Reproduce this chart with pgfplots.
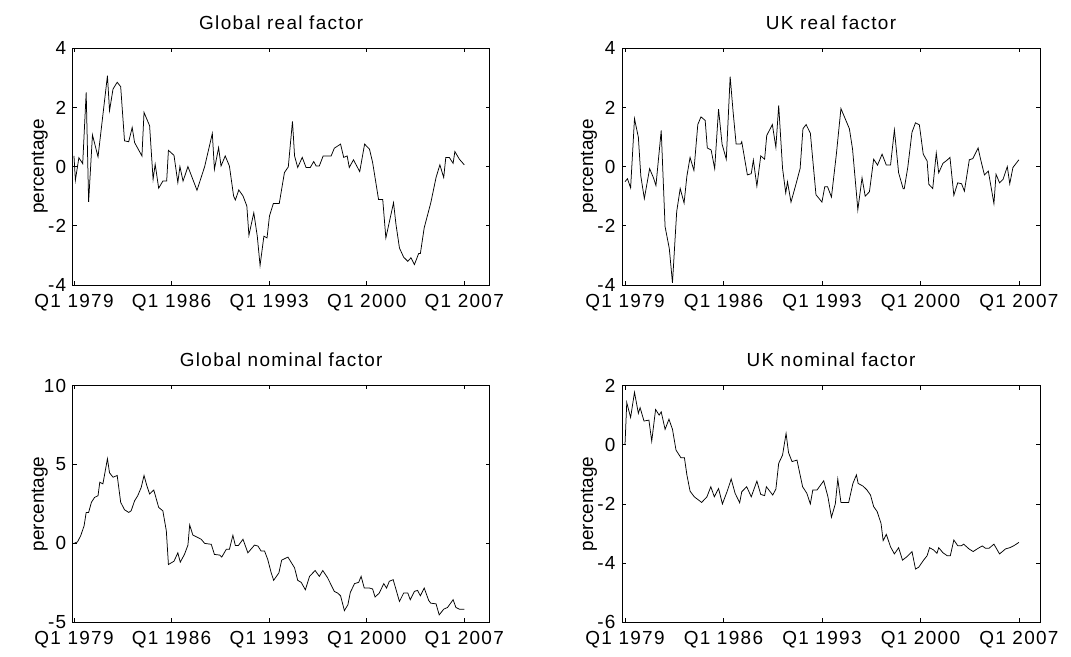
\documentclass[border=0pt]{standalone}
\usepackage{fontspec}
\setmainfont{Liberation Sans}
\newfontfamily\spaced{Liberation Sans}[LetterSpace=7]
\usepackage{pgfplots}
\pgfplotsset{compat=1.18}
\pgfplotsset{
  mystyle/.style={
    scale only axis, height=236.8bp,
    axis line style={line width=0.7bp, black},
    tick style={line width=0.7bp, black},
    major tick length=4bp,
    xtick={0,28,56,84,112},
    xticklabels={Q1 1979,Q1 1986,Q1 1993,Q1 2000,Q1 2007},
    every tick label/.append style={font=\spaced\fontsize{19}{19}\selectfont, inner sep=0pt},
    /pgf/number format/assume math mode=true,
    xticklabel style={anchor=base, yshift=-22.5bp},
    yticklabel style={anchor=east, xshift=-6.3bp},
    every axis title/.style={font=\spaced\fontsize{19}{19}\selectfont, at={(0.5,1)}, anchor=base, yshift=19bp},
    ylabel style={font=\fontsize{19}{19}\selectfont, at={([xshift=-33bp]axis description cs:0,0.5)}, anchor=center},
    ylabel={percentage},
  },
  leftcol/.style={mystyle, width=417bp, xmin=-0.37, xmax=119.3},
  rightcol/.style={mystyle, width=418bp, xmin=-0.85, xmax=118},
  ln/.style={black, line width=0.75bp, mark=none},
}
\begin{document}
\begin{tikzpicture}
\useasboundingbox (0,0) rectangle (1071bp,657bp);

% Global real factor
\begin{axis}[leftcol, at={(72.7bp,372bp)}, anchor=south west,
  title={Global real factor}, ymin=-4, ymax=4, ytick={-4,-2,0,2,4}]
\addplot[ln] coordinates {
(0.0,0.36) (0.4,-0.46) (1.4,0.30) (2.5,0.10) (3.5,2.51) (4.2,-1.19) (5.3,1.07) (6.9,0.33)
(9.6,3.07) (10.2,1.89) (11.2,2.62) (12.4,2.85) (13.4,2.70) (14.5,0.87) (15.7,0.84) (16.7,1.32)
(17.4,0.81) (19.5,0.36) (20.1,1.83) (21.7,1.38) (22.7,-0.43) (23.3,0.08) (24.3,-0.73) (25.5,-0.49)
(26.6,-0.49) (27.1,0.55) (28.7,0.38) (29.8,-0.54) (30.4,0.00) (31.3,-0.49) (32.7,0.00) (35.3,-0.80)
(37.5,0.00) (39.7,1.12) (40.3,-0.09) (41.5,0.64) (42.2,0.02) (43.4,0.36) (44.6,0.02) (45.8,-0.99)
(46.3,-1.13) (47.3,-0.79) (48.5,-0.99) (49.6,-1.33) (50.2,-2.32) (51.6,-1.56) (52.6,-2.35) (53.4,-3.34)
(54.5,-2.35) (55.4,-2.41) (56.1,-1.67) (57.2,-1.25) (58.9,-1.25) (60.4,-0.20) (61.5,-0.01) (62.7,1.53)
(63.3,0.36) (64.2,-0.03) (65.5,0.31) (66.6,-0.03) (67.8,-0.03) (68.8,0.17) (69.5,0.02) (70.4,0.02)
(71.5,0.36) (73.8,0.36) (74.7,0.62) (76.5,0.76) (77.4,0.31) (78.4,0.36) (79.0,-0.03) (80.2,0.23)
(82.0,-0.17) (83.4,0.76) (84.8,0.59) (85.7,0.14) (87.4,-1.11) (88.6,-1.11) (89.5,-2.41) (91.7,-1.22)
(92.4,-1.95) (93.4,-2.75) (94.6,-3.06) (95.8,-3.20) (96.7,-3.08) (97.7,-3.31) (98.9,-2.94) (99.4,-2.94)
(100.5,-2.07) (102.4,-1.22) (103.9,-0.37) (105.0,0.06) (106.1,-0.37) (106.7,0.31) (107.7,0.31) (108.8,0.11)
(109.3,0.51) (110.6,0.25) (112.0,0.06)
};
\end{axis}

% UK real factor
\begin{axis}[rightcol, at={(622bp,372bp)}, anchor=south west,
  title={UK real factor}, ymin=-4, ymax=4, ytick={-4,-2,0,2,4}]
\addplot[ln] coordinates {
(0.0,-0.51) (0.7,-0.41) (1.6,-0.72) (2.7,1.62) (3.8,0.99) (4.5,-0.32) (5.5,-1.08) (7.0,-0.07)
(8.1,-0.38) (8.8,-0.64) (10.3,1.22) (11.4,-2.03) (12.6,-2.77) (13.5,-3.93) (14.7,-1.52) (15.7,-0.74)
(16.8,-1.23) (17.6,-0.32) (18.5,0.31) (19.6,-0.13) (20.7,1.42) (21.6,1.68) (22.8,1.56) (23.4,0.63)
(24.5,0.56) (25.5,-0.07) (26.6,1.94) (27.6,0.76) (28.8,0.25) (29.9,3.04) (30.7,1.90) (31.6,0.76)
(32.9,0.76) (33.2,0.84) (34.8,-0.28) (35.9,-0.24) (36.5,0.22) (37.5,-0.66) (38.6,0.36) (39.7,0.25)
(40.3,1.05) (41.9,1.42) (42.9,0.65) (43.7,2.07) (44.8,-0.06) (45.7,-0.89) (46.2,-0.51) (47.2,-1.20)
(48.6,-0.60) (49.8,-0.06) (50.6,1.28) (51.5,1.42) (52.7,1.13) (54.3,-0.95) (56.0,-1.20) (56.8,-0.68)
(57.6,-0.68) (58.7,-1.03) (60.1,0.42) (61.4,1.96) (62.6,1.62) (63.8,1.28) (64.7,0.59) (66.0,-1.17)
(66.2,-1.46) (67.4,-0.38) (68.3,-1.00) (69.5,-0.85) (70.7,0.25) (71.8,0.05) (73.1,0.42) (74.3,0.05)
(75.5,0.05) (76.6,1.24) (77.8,-0.21) (79.1,-0.75) (79.4,-0.75) (80.4,-0.03) (81.6,1.16) (82.6,1.48)
(83.7,1.41) (84.8,0.42) (85.9,0.19) (86.4,-0.60) (87.5,-0.74) (88.5,0.46) (89.2,-0.21) (90.4,0.11)
(91.6,0.22) (92.4,0.31) (93.5,-0.97) (94.6,-0.55) (95.7,-0.58) (96.5,-0.83) (97.9,0.23) (98.9,0.27)
(100.4,0.63) (101.1,0.25) (102.2,-0.28) (103.3,-0.15) (104.9,-1.25) (105.5,-0.26) (106.5,-0.55) (107.5,-0.43)
(108.7,0.00) (109.4,-0.58) (110.3,-0.03) (112.0,0.23)
};
\end{axis}

% Global nominal factor
\begin{axis}[leftcol, at={(72.7bp,34.7bp)}, anchor=south west,
  title={Global nominal factor}, ymin=-5, ymax=10, ytick={-5,0,5,10}]
\addplot[ln] coordinates {
(0.0,0.00) (1.0,0.09) (1.9,0.47) (2.9,1.11) (3.5,1.96) (4.2,1.96) (5.0,2.60) (5.9,2.91)
(6.9,3.02) (7.4,3.87) (8.3,3.77) (9.6,5.36) (10.2,4.47) (11.2,4.19) (12.4,4.30) (13.4,2.60)
(14.5,2.13) (15.7,1.96) (16.4,2.06) (17.4,2.70) (18.3,3.02) (19.3,3.55) (20.1,4.30) (20.9,3.66)
(21.7,3.13) (22.9,3.38) (24.3,2.28) (25.5,2.06) (26.5,0.79) (27.1,-1.34) (28.7,-1.13) (29.8,-0.60)
(30.5,-1.19) (31.7,-0.70) (32.7,-0.11) (33.2,1.17) (34.1,0.53) (35.6,0.36) (36.5,0.26) (37.5,0.00)
(39.4,-0.06) (40.3,-0.70) (41.8,-0.74) (42.4,-0.87) (43.7,-0.38) (44.6,-0.38) (45.6,0.51) (46.3,-0.13)
(47.2,-0.13) (48.5,0.26) (49.9,-0.60) (51.8,-0.11) (52.8,-0.17) (53.7,-0.49) (54.7,-0.49) (55.6,-1.02)
(56.6,-1.87) (57.3,-2.34) (58.8,-1.87) (59.6,-1.06) (61.4,-0.87) (63.3,-1.55) (64.2,-2.34) (65.2,-2.47)
(66.4,-2.94) (67.6,-2.09) (69.2,-1.72) (70.4,-2.09) (71.4,-1.72) (72.8,-2.19) (74.7,-3.04) (75.7,-3.15)
(76.5,-3.32) (77.6,-4.26) (78.6,-3.89) (79.3,-3.11) (80.5,-2.55) (81.7,-2.47) (82.4,-2.09) (83.3,-2.83)
(84.8,-2.83) (85.7,-2.89) (86.4,-3.40) (87.6,-3.15) (88.9,-2.55) (89.7,-2.83) (90.5,-2.40) (91.6,-2.30)
(93.4,-3.68) (94.6,-3.15) (95.8,-3.15) (96.5,-3.57) (97.7,-3.04) (98.6,-2.98) (99.4,-3.32) (100.5,-2.83)
(101.8,-3.62) (102.4,-3.79) (103.9,-3.83) (104.8,-4.53) (106.1,-4.17) (107.2,-4.06) (108.8,-3.57) (109.6,-4.06)
(110.6,-4.17) (112.0,-4.17)
};
\end{axis}

% UK nominal factor
\begin{axis}[rightcol, at={(622bp,34.7bp)}, anchor=south west,
  title={UK nominal factor}, ymin=-6, ymax=2, ytick={-6,-4,-2,0,2}]
\addplot[ln] coordinates {
(0.0,-0.01) (0.5,1.42) (1.6,0.92) (2.7,1.77) (3.8,1.06) (4.3,1.25) (5.4,0.80) (6.8,0.83)
(7.6,0.12) (8.7,1.19) (9.7,1.00) (10.3,1.11) (11.4,0.52) (12.5,0.86) (13.5,0.52) (14.5,-0.18)
(15.9,-0.44) (16.9,-0.44) (17.6,-1.02) (18.5,-1.57) (19.7,-1.76) (21.8,-1.95) (23.3,-1.76) (24.4,-1.42)
(25.4,-1.76) (26.6,-1.48) (27.7,-2.00) (29.0,-1.59) (30.2,-1.16) (31.3,-1.64) (32.6,-1.96) (33.2,-1.59)
(34.6,-1.42) (35.9,-1.76) (37.5,-1.23) (38.6,-1.68) (39.7,-1.72) (40.2,-1.42) (42.0,-1.70) (42.9,-1.50)
(43.7,-0.63) (44.8,-0.35) (45.8,0.38) (46.5,-0.27) (47.5,-0.57) (48.9,-0.52) (50.5,-1.42) (51.7,-1.64)
(52.7,-2.00) (53.4,-1.53) (54.6,-1.53) (56.5,-1.22) (57.7,-1.76) (58.7,-2.45) (59.8,-2.00) (60.5,-1.16)
(61.4,-1.95) (63.6,-1.95) (64.8,-1.31) (65.8,-1.02) (66.3,-1.31) (67.7,-1.40) (68.8,-1.53) (69.8,-1.70)
(70.7,-2.09) (71.7,-2.26) (72.8,-2.66) (73.4,-3.24) (74.3,-3.03) (75.5,-3.45) (76.6,-3.69) (77.8,-3.48)
(78.9,-3.90) (80.2,-3.78) (81.6,-3.61) (82.6,-4.20) (83.5,-4.14) (84.9,-3.90) (85.9,-3.75) (86.6,-3.48)
(87.8,-3.56) (88.7,-3.67) (89.2,-3.48) (90.4,-3.65) (91.6,-3.75) (92.5,-3.75) (93.5,-3.22) (94.6,-3.41)
(95.7,-3.41) (96.3,-3.36) (97.8,-3.52) (99.0,-3.61) (100.4,-3.50) (101.6,-3.42) (102.5,-3.50) (103.5,-3.50)
(104.9,-3.36) (106.5,-3.69) (108.2,-3.52) (109.4,-3.48) (110.6,-3.41) (112.0,-3.30)
};
\end{axis}
\end{tikzpicture}
\end{document}
